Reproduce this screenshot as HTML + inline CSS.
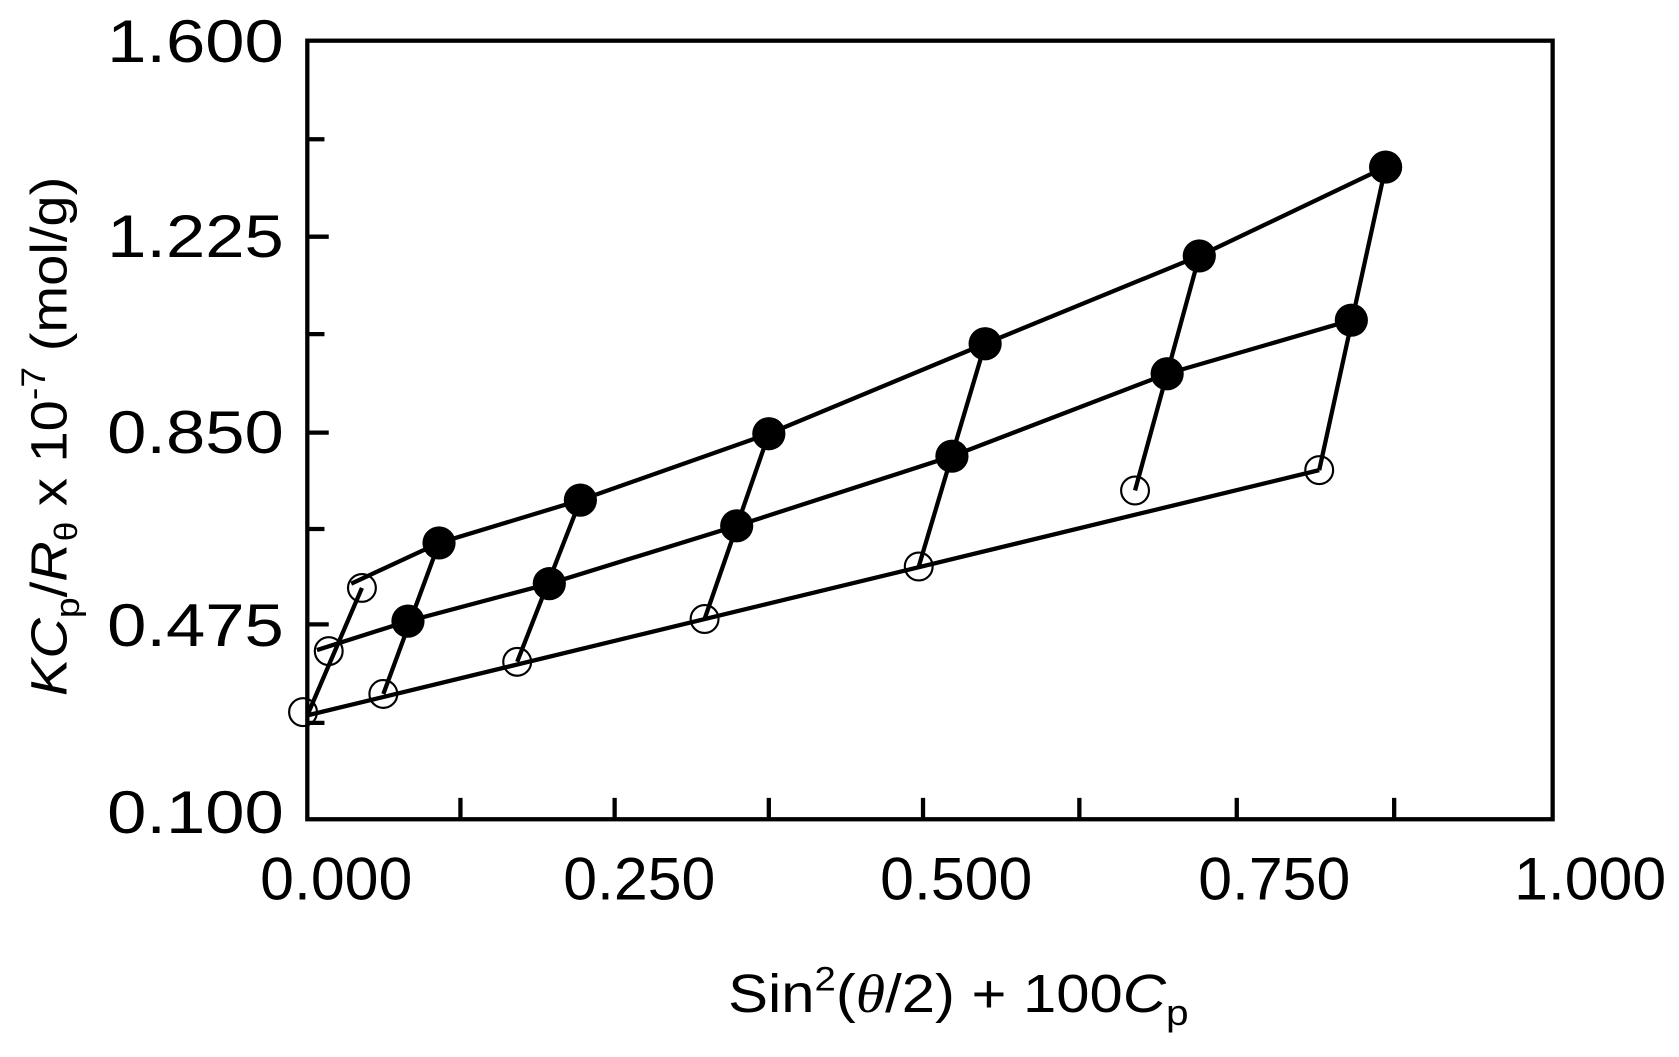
<!DOCTYPE html>
<html><head><style>html,body{margin:0;padding:0;background:#fff}svg{display:block}</style></head>
<body>
<svg width="1679" height="1057" viewBox="0 0 1568 987" preserveAspectRatio="none" xmlns="http://www.w3.org/2000/svg">
<rect width="1568" height="987" fill="#fff"/>
<g stroke="#000" stroke-width="4" fill="none">
<rect x="287" y="38" width="1163" height="727"/>
<path d="M287 130H303M287 221H307M287 312H303M287 404H307M287 494H303M287 583H307M287 675H303"/>
<path d="M430 765V745M574 765V745M718 765V745M862 765V745M1008 765V745M1155 765V745M1302 765V745"/>
</g>
<g stroke="#000" stroke-width="4" fill="none" stroke-linejoin="round">
<polyline points="328,545 410,507 542,467 718,405 920,321 1120,239 1294,156"/>
<polyline points="296,607 381,580 513,545 688,491 889,426 1090,349 1262,299"/>
<polyline points="287,668 1232,439"/>
<path d="M287,668 L338,549 M358,648 L410,507 M483,618 L542,467 M658,578 L718,405 M858,529 L920,321 M1060,458 L1120,239 M1232,439 L1294,156"/>
</g>
<g stroke="#000" stroke-width="2" fill="none">
<circle cx="283" cy="665" r="13"/><circle cx="307" cy="608" r="13"/><circle cx="338" cy="549" r="13"/>
<circle cx="358" cy="648" r="13"/><circle cx="483" cy="618" r="13"/><circle cx="658" cy="578" r="13"/>
<circle cx="858" cy="529" r="13"/><circle cx="1060" cy="458" r="13"/><circle cx="1232" cy="439" r="13"/>
</g>
<g fill="#000">
<circle cx="410" cy="507" r="15.5"/><circle cx="381" cy="580" r="15.5"/><circle cx="542" cy="467" r="15.5"/>
<circle cx="513" cy="545" r="15.5"/><circle cx="718" cy="405" r="15.5"/><circle cx="688" cy="491" r="15.5"/>
<circle cx="920" cy="321" r="15.5"/><circle cx="889" cy="426" r="15.5"/><circle cx="1120" cy="239" r="15.5"/>
<circle cx="1090" cy="349" r="15.5"/><circle cx="1262" cy="299" r="15.5"/><circle cx="1294" cy="156" r="15.5"/>
</g>
<g font-family="Liberation Sans, sans-serif" font-size="56" fill="#000">
<text x="100" y="58" textLength="165" lengthAdjust="spacingAndGlyphs">1.600</text>
<text x="100" y="240" textLength="165" lengthAdjust="spacingAndGlyphs">1.225</text>
<text x="100" y="423" textLength="165" lengthAdjust="spacingAndGlyphs">0.850</text>
<text x="100" y="603" textLength="165" lengthAdjust="spacingAndGlyphs">0.475</text>
<text x="100" y="778" textLength="165" lengthAdjust="spacingAndGlyphs">0.100</text>
<text x="243" y="840" textLength="142" lengthAdjust="spacingAndGlyphs">0.000</text>
<text x="526" y="840" textLength="142" lengthAdjust="spacingAndGlyphs">0.250</text>
<text x="822" y="840" textLength="142" lengthAdjust="spacingAndGlyphs">0.500</text>
<text x="1119" y="840" textLength="142" lengthAdjust="spacingAndGlyphs">0.750</text>
<text x="1414" y="840" textLength="142" lengthAdjust="spacingAndGlyphs">1.000</text>
<text x="680" y="945" font-size="50" textLength="430" lengthAdjust="spacingAndGlyphs">Sin<tspan font-size="32" dy="-20">2</tspan><tspan dy="20">(</tspan><tspan font-family="Liberation Serif, serif" font-style="italic">θ</tspan>/2) + 100<tspan font-style="italic">C</tspan><tspan font-size="34" dy="12">p</tspan></text>
<text transform="translate(62,650) rotate(-90)" font-size="48" textLength="485" lengthAdjust="spacingAndGlyphs"><tspan font-style="italic">KC</tspan><tspan font-size="32" dy="12">p</tspan><tspan dy="-12">/</tspan><tspan font-style="italic">R</tspan><tspan font-size="30" dy="10">θ</tspan><tspan dy="-10"> x 10</tspan><tspan font-size="32" dy="-20">-7</tspan><tspan dy="20"> (mol/g)</tspan></text>
</g>
</svg>
</body></html>
